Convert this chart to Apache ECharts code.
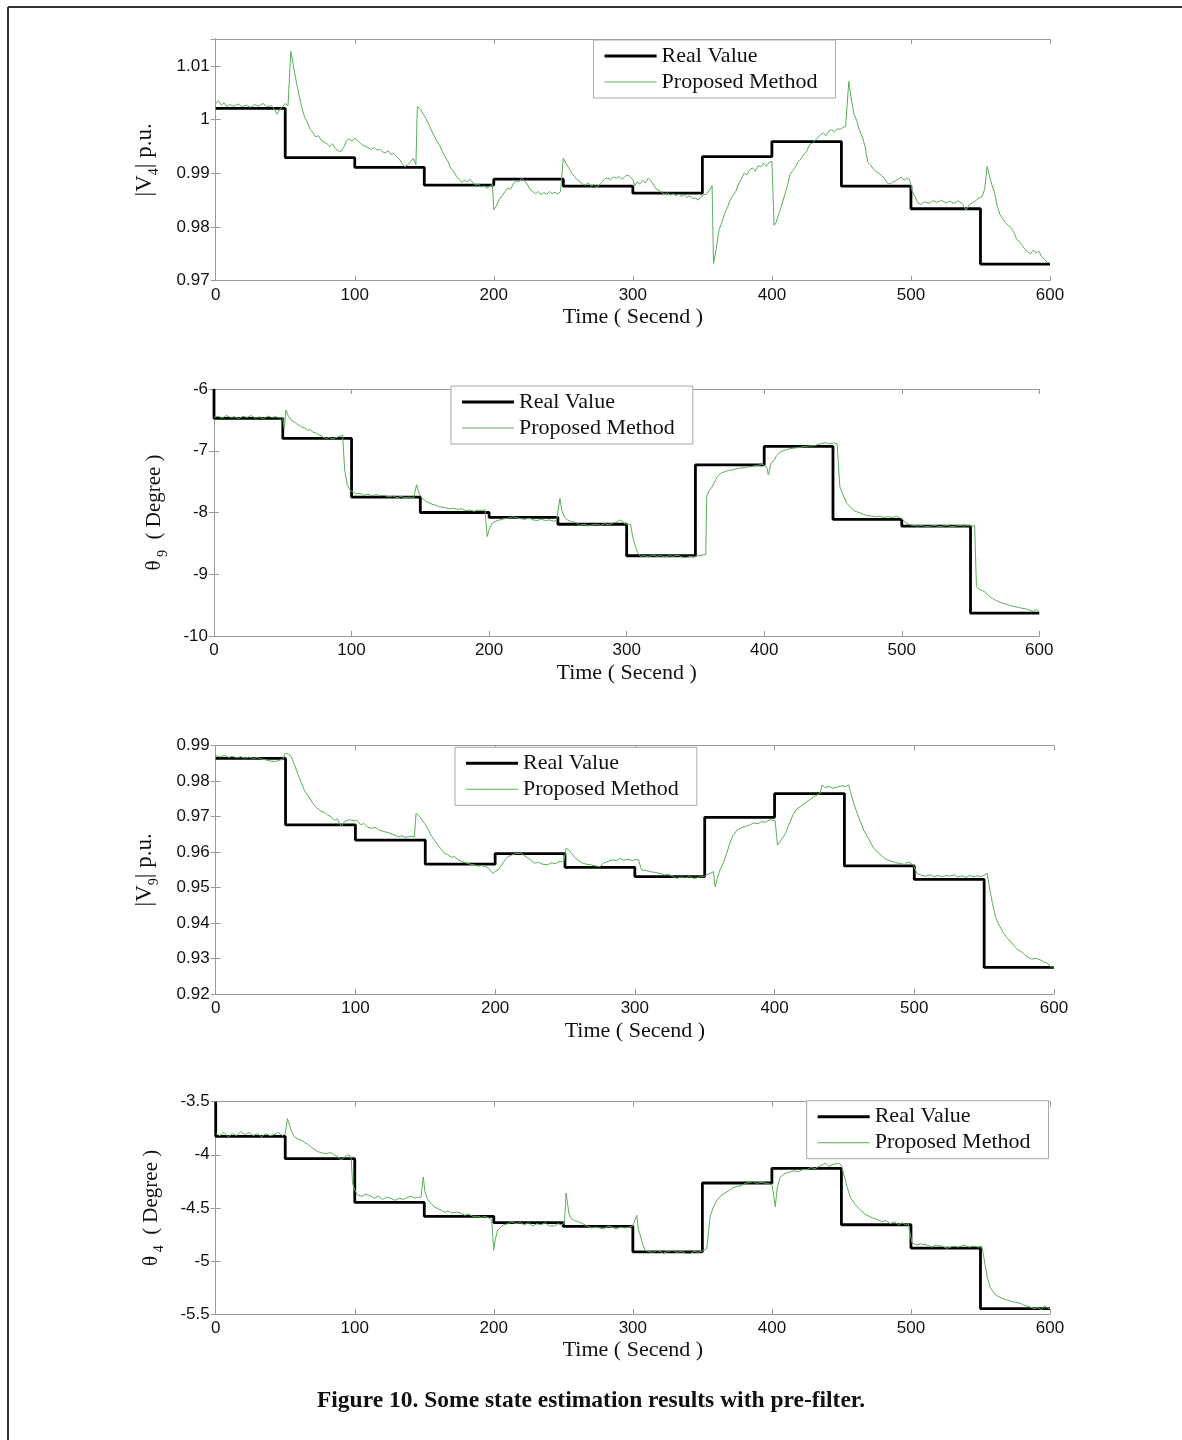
<!DOCTYPE html>
<html><head><meta charset="utf-8">
<script src="https://cdn.jsdelivr.net/npm/echarts@6/dist/echarts.min.js"></script>
<style>html,body{margin:0;padding:0;background:#fff}#c{width:1182px;height:1440px}</style>
</head><body><div id="c"></div>
<script>
// ---------- DATA ----------
const stepTimes = [0, 50, 100, 150, 200, 250, 300, 350, 400, 450, 500, 550, 600];
const xTicks = [0, 100, 200, 300, 400, 500, 600];
const seriesNames = ['Real Value', 'Proposed Method'];
const xName = 'Time ( Secend )';
const caption = 'Figure 10. Some state estimation results with pre-filter.';

// Real values (piecewise constant, one level per 50 s interval)
const realV4  = [1.0021, 0.9929, 0.9911, 0.9878, 0.9889, 0.9876, 0.9863, 0.9931, 0.9959, 0.9876, 0.9834, 0.9731];
const realTh9 = [-6.475, -6.80, -7.75, -8.00, -8.08, -8.19, -8.70, -7.23, -6.93, -8.11, -8.22, -9.63];
const realV9  = [0.9864, 0.9677, 0.9634, 0.9566, 0.9596, 0.9557, 0.9531, 0.9698, 0.9765, 0.9561, 0.9523, 0.9275];
const realTh4 = [-3.826, -4.037, -4.448, -4.58, -4.64, -4.675, -4.914, -4.266, -4.128, -4.659, -4.879, -5.45];
// value at t=0 before the first level (vertical start segment), null = none
const startV4 = null, startTh9 = -6, startV9 = null, startTh4 = -3.5;

// Proposed method estimates [time, value]
const propV4 = [[0,1.0030],[2,1.0035],[4,1.0027],[6,1.0031],[8,1.0024],[10,1.0028],[13,1.0025],[16,1.0029],[19,1.0024],[22,1.0027],[25,1.0023],[28,1.0028],[31,1.0025],[34,1.0030],[37,1.0024],[40,1.0026],[42,1.0020],[44,1.0010],[46,1.0018],[48,1.0024],[50,1.0030],[52,1.0026],[53,1.0028],[54,1.0127],[56,1.0098],[58,1.0070],[60,1.0045],[62,1.0022],[64,1.0004],[66,0.9995],[68,0.9982],[70,0.9975],[72,0.9968],[74,0.9970],[76,0.9961],[78,0.9958],[80,0.9955],[82,0.9950],[84,0.9955],[86,0.9946],[88,0.9942],[90,0.9940],[92,0.9948],[94,0.9960],[96,0.9964],[98,0.9960],[100,0.9965],[102,0.9961],[104,0.9956],[106,0.9952],[108,0.9950],[110,0.9947],[112,0.9944],[114,0.9948],[116,0.9943],[118,0.9945],[120,0.9940],[122,0.9938],[124,0.9942],[126,0.9935],[128,0.9937],[130,0.9931],[132,0.9927],[134,0.9918],[136,0.9912],[138,0.9916],[140,0.9921],[142,0.9928],[143,0.9931],[144,0.9916],[145,1.0024],[147,1.0020],[149,1.0012],[151,1.0003],[153,0.9992],[155,0.9981],[157,0.9970],[159,0.9960],[161,0.9952],[163,0.9941],[165,0.9931],[167,0.9922],[169,0.9910],[171,0.9904],[173,0.9895],[175,0.9888],[177,0.9883],[179,0.9887],[181,0.9884],[183,0.9889],[185,0.9882],[187,0.9878],[189,0.9880],[191,0.9874],[193,0.9877],[195,0.9872],[197,0.9876],[199,0.9879],[200,0.9832],[202,0.9840],[204,0.9852],[206,0.9858],[208,0.9866],[210,0.9873],[212,0.9870],[214,0.9880],[216,0.9886],[218,0.9884],[220,0.9891],[222,0.9886],[224,0.9880],[226,0.9870],[228,0.9866],[230,0.9862],[232,0.9866],[234,0.9860],[236,0.9864],[238,0.9861],[240,0.9866],[242,0.9862],[244,0.9865],[246,0.9861],[248,0.9866],[250,0.9928],[252,0.9918],[254,0.9910],[256,0.9900],[258,0.9894],[260,0.9888],[262,0.9884],[264,0.9880],[266,0.9878],[268,0.9882],[270,0.9876],[272,0.9879],[274,0.9875],[276,0.9878],[278,0.9884],[280,0.9890],[282,0.9891],[284,0.9888],[286,0.9893],[288,0.9891],[290,0.9894],[292,0.9889],[294,0.9893],[296,0.9897],[298,0.9894],[300,0.9888],[301.5,0.9877],[303,0.9884],[305,0.9880],[307,0.9887],[309,0.9882],[311,0.9891],[313,0.9886],[315,0.9878],[317,0.9870],[319,0.9868],[321,0.9864],[323,0.9861],[325,0.9864],[327,0.9859],[329,0.9862],[331,0.9858],[333,0.9861],[335,0.9857],[337,0.9860],[339,0.9855],[341,0.9858],[343,0.9853],[345,0.9854],[347,0.9850],[349,0.9857],[351,0.9860],[353,0.9861],[355,0.9868],[357,0.9877],[358,0.9732],[360,0.9760],[362,0.9795],[364,0.9808],[366,0.9825],[368,0.9836],[370,0.9850],[372,0.9859],[374,0.9866],[376,0.9880],[378,0.9889],[380,0.9900],[382,0.9897],[384,0.9906],[386,0.9910],[388,0.9904],[390,0.9914],[392,0.9912],[394,0.9919],[396,0.9913],[398,0.9920],[400,0.9922],[401.6,0.9803],[403,0.9808],[405,0.9825],[407,0.9840],[409,0.9858],[411,0.9875],[413,0.9898],[415,0.9905],[417,0.9912],[419,0.9922],[421,0.9927],[423,0.9935],[425,0.9941],[427,0.9953],[429,0.9956],[431,0.9961],[433,0.9966],[435,0.9972],[437,0.9975],[439,0.9970],[441,0.9979],[443,0.9981],[445,0.9977],[447,0.9983],[449,0.9982],[451,0.9985],[453,0.9987],[455.3,1.0071],[457,1.0040],[459,1.0010],[461,0.9998],[463,0.9980],[465,0.9968],[467,0.9950],[469,0.9920],[471,0.9915],[473,0.9908],[475,0.9903],[477,0.9900],[479,0.9896],[481,0.9890],[483,0.9882],[485,0.9880],[487,0.9884],[489,0.9886],[491,0.9889],[493,0.9893],[495,0.9887],[497,0.9891],[499,0.9888],[501,0.9866],[503,0.9856],[505,0.9845],[507,0.9842],[510,0.9847],[513,0.9844],[516,0.9849],[519,0.9846],[522,0.9850],[525,0.9845],[528,0.9848],[531,0.9844],[534,0.9849],[537,0.9843],[539.7,0.9831],[542,0.9842],[545,0.9846],[547,0.9850],[549,0.9854],[551,0.9856],[553,0.9870],[554.8,0.9913],[556,0.9900],[558,0.9880],[560,0.9865],[562,0.9840],[564,0.9823],[566,0.9815],[568,0.9808],[570,0.9803],[572,0.9799],[574,0.9790],[576,0.9777],[578,0.9773],[580,0.9766],[582,0.9758],[584,0.9754],[586,0.9750],[588,0.9757],[590,0.9752],[592,0.9755],[594,0.9745],[596,0.9740],[598,0.9734],[600,0.9733]];

const propTh9 = [[0,-6.46],[3,-6.44],[6,-6.47],[9,-6.43],[12,-6.46],[15,-6.45],[18,-6.48],[21,-6.44],[24,-6.46],[27,-6.43],[30,-6.47],[33,-6.45],[36,-6.48],[39,-6.44],[42,-6.46],[45,-6.45],[48,-6.47],[50,-6.46],[51,-6.64],[52.3,-6.34],[54,-6.44],[56,-6.50],[58,-6.53],[60,-6.56],[62,-6.59],[64,-6.62],[66,-6.63],[68,-6.67],[70,-6.66],[72,-6.70],[74,-6.71],[76,-6.74],[78,-6.76],[80,-6.79],[82,-6.80],[84,-6.78],[86,-6.81],[88,-6.79],[90,-6.78],[92,-6.76],[93.5,-6.75],[95,-7.31],[97,-7.56],[99,-7.64],[101,-7.67],[103,-7.70],[106,-7.69],[109,-7.72],[112,-7.70],[115,-7.73],[118,-7.71],[121,-7.73],[124,-7.72],[127,-7.75],[130,-7.73],[133,-7.76],[136,-7.74],[139,-7.76],[142,-7.75],[145,-7.77],[147.3,-7.55],[149,-7.68],[151,-7.76],[153,-7.80],[155,-7.83],[157,-7.85],[159,-7.87],[161,-7.88],[163,-7.90],[165,-7.91],[168,-7.92],[171,-7.94],[174,-7.93],[177,-7.95],[180,-7.94],[183,-7.97],[186,-7.96],[189,-7.98],[192,-7.96],[195,-7.97],[197,-7.95],[198.6,-8.39],[200,-8.28],[202,-8.18],[204,-8.15],[206,-8.13],[208,-8.12],[211,-8.10],[214,-8.09],[217,-8.07],[220,-8.08],[223,-8.10],[226,-8.11],[229,-8.09],[232,-8.12],[235,-8.13],[238,-8.11],[241,-8.13],[244,-8.12],[247,-8.14],[249,-8.13],[251.5,-7.77],[253,-7.98],[255,-8.08],[257,-8.12],[260,-8.15],[263,-8.16],[266,-8.21],[269,-8.19],[272,-8.22],[275,-8.20],[278,-8.19],[281,-8.21],[284,-8.18],[287,-8.20],[290,-8.17],[293,-8.15],[295,-8.12],[298,-8.17],[300,-8.19],[302.8,-8.19],[304.5,-8.40],[306.4,-8.55],[308,-8.65],[310,-8.71],[313,-8.70],[316,-8.72],[319,-8.69],[322,-8.71],[325,-8.70],[328,-8.72],[331,-8.70],[334,-8.71],[337,-8.69],[340,-8.72],[343,-8.73],[346,-8.71],[349,-8.72],[352,-8.70],[355,-8.69],[357.5,-8.68],[358.2,-7.74],[360,-7.65],[362,-7.59],[364,-7.50],[366,-7.42],[368,-7.37],[371,-7.34],[374,-7.32],[377,-7.31],[380,-7.29],[383,-7.28],[386,-7.27],[389,-7.26],[392,-7.25],[395,-7.24],[398,-7.22],[400,-7.23],[402,-7.28],[403,-7.39],[405,-7.20],[407,-7.16],[409,-7.08],[411.8,-7.02],[415,-6.99],[418,-6.97],[421,-6.96],[424,-6.95],[427,-6.94],[430,-6.93],[433,-6.92],[436,-6.92],[439,-6.90],[442,-6.88],[445,-6.87],[448,-6.89],[451,-6.87],[453,-6.89],[455,-7.58],[457,-7.70],[460,-7.85],[463,-7.92],[466,-7.98],[469,-8.00],[472,-8.03],[475,-8.05],[478,-8.06],[481,-8.07],[484,-8.06],[487,-8.08],[490,-8.07],[493,-8.08],[496,-8.06],[499,-8.09],[501,-8.12],[503,-8.17],[506,-8.20],[509,-8.21],[512,-8.22],[515,-8.21],[518,-8.23],[521,-8.22],[524,-8.21],[527,-8.23],[530,-8.22],[533,-8.21],[536,-8.23],[539,-8.22],[542,-8.21],[545,-8.22],[548,-8.21],[551,-8.22],[553,-8.21],[554.3,-9.20],[556,-9.24],[558,-9.26],[560,-9.28],[562,-9.32],[564,-9.36],[566,-9.39],[568,-9.42],[570,-9.44],[572,-9.46],[575,-9.48],[578,-9.50],[581,-9.52],[584,-9.53],[587,-9.55],[590,-9.56],[593,-9.58],[596,-9.60],[598,-9.57],[600,-9.61]];

const propV9 = [[0,0.9872],[3,0.9868],[6,0.9873],[9,0.9867],[12,0.9870],[15,0.9866],[18,0.9869],[21,0.9865],[24,0.9868],[27,0.9864],[30,0.9867],[33,0.9862],[36,0.9860],[39,0.9857],[42,0.9855],[45,0.9858],[48,0.9862],[49.8,0.9879],[52,0.9876],[54,0.9870],[56,0.9850],[58.7,0.9822],[61,0.9798],[63.4,0.9775],[66,0.9760],[69.4,0.9738],[72,0.9726],[75.4,0.9715],[78,0.9712],[80,0.9705],[82.5,0.9700],[85,0.9690],[87,0.9694],[89.7,0.9672],[92,0.9685],[94,0.9690],[96.9,0.9691],[99,0.9688],[101,0.9690],[104,0.9677],[106,0.9681],[108,0.9672],[111.2,0.9667],[114,0.9670],[117,0.9662],[120.7,0.9658],[124,0.9654],[127,0.9650],[130.3,0.9643],[133,0.9646],[136,0.9641],[139,0.9645],[142.2,0.9643],[143.4,0.9709],[146,0.9700],[149.4,0.9681],[152,0.9665],[154,0.9648],[156.5,0.9634],[159,0.9620],[161,0.9610],[163.7,0.9597],[166,0.9593],[169,0.9585],[171,0.9588],[173.3,0.9578],[176,0.9574],[179,0.9570],[182,0.9566],[185.2,0.9564],[188,0.9560],[190,0.9563],[192.4,0.9560],[195,0.9556],[198.3,0.9540],[200,0.9545],[202,0.9550],[205,0.9565],[207,0.9578],[209,0.9587],[212,0.9592],[215,0.9596],[218.6,0.9597],[221,0.9590],[224,0.9582],[226,0.9576],[228.2,0.9569],[231,0.9571],[234,0.9566],[237.7,0.9564],[240,0.9570],[243,0.9567],[245,0.9572],[247.3,0.9574],[249,0.9570],[250.8,0.9611],[253,0.9605],[255,0.9595],[257,0.9585],[259.2,0.9578],[262,0.9570],[265,0.9566],[268.8,0.9564],[272,0.9561],[275,0.9559],[278,0.9570],[281,0.9574],[284,0.9578],[287,0.9576],[289.4,0.9582],[292,0.9577],[295,0.9580],[298,0.9576],[300,0.9579],[302.5,0.9578],[304.9,0.9550],[308,0.9548],[311,0.9545],[314,0.9543],[318,0.9540],[321,0.9536],[324,0.9538],[327,0.9532],[330,0.9526],[333,0.9530],[336,0.9527],[339,0.9531],[342,0.9526],[344.3,0.9527],[347,0.9531],[349,0.9530],[351.5,0.9536],[354,0.9540],[356.3,0.9545],[357.5,0.9502],[359,0.9525],[361,0.9550],[363.5,0.9571],[366,0.9600],[368,0.9625],[370,0.9645],[373,0.9662],[376,0.9668],[379,0.9672],[382.6,0.9677],[385,0.9682],[388,0.9680],[390.9,0.9686],[393,0.9684],[396,0.9690],[398,0.9691],[400.4,0.9688],[402.1,0.9620],[404,0.9630],[406.4,0.9643],[408,0.9655],[410,0.9675],[413.6,0.9709],[416,0.9722],[419,0.9730],[423.1,0.9742],[426,0.9750],[429,0.9758],[432.7,0.9766],[433.9,0.9789],[436,0.9782],[439,0.9785],[442.3,0.9780],[445,0.9784],[448,0.9787],[451,0.9785],[453,0.9789],[456.6,0.9738],[460,0.9700],[463.8,0.9662],[467,0.9640],[470.9,0.9611],[474,0.9600],[477,0.9588],[480.5,0.9578],[484,0.9574],[487,0.9570],[490,0.9568],[493,0.9565],[495,0.9572],[497.2,0.9570],[499,0.9565],[502,0.9540],[505,0.9535],[508,0.9532],[511,0.9536],[513.9,0.9531],[517,0.9534],[520,0.9530],[523,0.9535],[525,0.9532],[528.3,0.9536],[531,0.9530],[534,0.9533],[537,0.9529],[540,0.9534],[542.6,0.9530],[545,0.9533],[548,0.9531],[550,0.9535],[552.2,0.9540],[554.1,0.9493],[556,0.9455],[558.1,0.9418],[560,0.9400],[562,0.9385],[564,0.9371],[566,0.9360],[568,0.9352],[571.2,0.9337],[574,0.9325],[577,0.9318],[580.8,0.9305],[584,0.9298],[587,0.9301],[590.3,0.9296],[593,0.9290],[595,0.9288],[597.5,0.9277],[600,0.9276]];

const propTh4 = [[0,-3.80],[3,-3.82],[6,-3.79],[9,-3.83],[12,-3.80],[15,-3.82],[18,-3.78],[21,-3.81],[24,-3.79],[27,-3.82],[30,-3.80],[33,-3.83],[36,-3.80],[39,-3.82],[42,-3.81],[45,-3.79],[48,-3.82],[50,-3.80],[51.6,-3.66],[54,-3.76],[56.4,-3.83],[59,-3.85],[61,-3.86],[63.6,-3.88],[66,-3.90],[68,-3.92],[70,-3.94],[73.2,-3.97],[76,-3.98],[79,-3.99],[82.8,-3.98],[85,-4.00],[88,-4.02],[90,-4.05],[92,-4.03],[94,-4.01],[96,-4.00],[97.5,-4.04],[98.4,-4.27],[100,-4.33],[102,-4.38],[105,-4.39],[108,-4.37],[111.6,-4.39],[114,-4.41],[117,-4.39],[120,-4.42],[123,-4.40],[126,-4.41],[129,-4.43],[132,-4.41],[135,-4.42],[138,-4.40],[140.4,-4.39],[143,-4.41],[145,-4.40],[147.6,-4.40],[149.3,-4.21],[150.5,-4.35],[152.4,-4.42],[155,-4.46],[157.2,-4.49],[160,-4.51],[162,-4.52],[164.4,-4.54],[167,-4.53],[170,-4.55],[173,-4.54],[176.4,-4.55],[179,-4.57],[182,-4.56],[185,-4.58],[188.4,-4.58],[191,-4.59],[194,-4.58],[196.8,-4.60],[198.5,-4.61],[199.9,-4.90],[201,-4.80],[202.8,-4.71],[205,-4.68],[207,-4.66],[210,-4.65],[213,-4.63],[216,-4.65],[219,-4.64],[222,-4.66],[225,-4.64],[228,-4.67],[231,-4.65],[234,-4.66],[237,-4.64],[240,-4.67],[243.6,-4.67],[246,-4.65],[249,-4.66],[250.8,-4.64],[252,-4.36],[254,-4.55],[255.6,-4.60],[258,-4.62],[261,-4.63],[264,-4.65],[267,-4.67],[270,-4.69],[273,-4.68],[276.4,-4.69],[279,-4.70],[282,-4.67],[285,-4.68],[288,-4.70],[291,-4.68],[294,-4.69],[298,-4.68],[300,-4.67],[302.8,-4.57],[304,-4.70],[305.2,-4.75],[307,-4.84],[308.8,-4.90],[311,-4.91],[314,-4.92],[317,-4.90],[319.6,-4.91],[322,-4.93],[325,-4.91],[329.2,-4.90],[332,-4.92],[335,-4.91],[338,-4.93],[341.2,-4.93],[344,-4.91],[347,-4.92],[350.8,-4.90],[353.2,-4.88],[355.6,-4.58],[358,-4.49],[360.4,-4.43],[363,-4.39],[365,-4.37],[367.6,-4.35],[370,-4.33],[372,-4.31],[374.8,-4.30],[378,-4.29],[381,-4.27],[384,-4.26],[386.8,-4.25],[389,-4.27],[392,-4.26],[396.4,-4.27],[400,-4.28],[401.5,-4.40],[402.4,-4.49],[404,-4.30],[406,-4.21],[409,-4.18],[413.2,-4.16],[416,-4.15],[419,-4.16],[422,-4.14],[425.2,-4.14],[428,-4.12],[431,-4.13],[434,-4.11],[438.4,-4.08],[441,-4.11],[444,-4.09],[448,-4.08],[450,-4.10],[451.6,-4.18],[454,-4.30],[456.4,-4.40],[460,-4.47],[463.6,-4.52],[467,-4.56],[470,-4.58],[473.2,-4.60],[476,-4.61],[479,-4.63],[482,-4.62],[485.2,-4.65],[488,-4.63],[491,-4.66],[494,-4.64],[496,-4.66],[498,-4.65],[500.8,-4.83],[504,-4.85],[507,-4.84],[511.6,-4.85],[515,-4.87],[518,-4.85],[522,-4.86],[526,-4.88],[530.8,-4.86],[534,-4.87],[538,-4.85],[542,-4.87],[545,-4.86],[548.8,-4.87],[551,-4.86],[552.4,-4.85],[554.8,-5.15],[557,-5.25],[559.6,-5.30],[562,-5.33],[565,-5.35],[569.2,-5.37],[572,-5.38],[575,-5.39],[578.8,-5.40],[582,-5.42],[585,-5.43],[588.4,-5.45],[591,-5.44],[594,-5.46],[596,-5.42],[598,-5.44],[600,-5.45]];

// Y axis ranges and ticks
const yV4  = {min: 0.97, max: 1.015, interval: 0.01};
const yTh9 = {min: -10, max: -6, interval: 1};
const yV9  = {min: 0.92, max: 0.99, interval: 0.01};
const yTh4 = {min: -5.5, max: -3.5, interval: 0.5};

// ---------- LAYOUT / STYLE ----------
const SERIF = "'Times New Roman', 'Liberation Serif', serif";
const SANS = "Arial, 'Liberation Sans', Helvetica, sans-serif";
const AXIS_GRAY = '#9a9a9a';
const GREEN = '#5aae5a';

const panels = [
  {real: realV4, start: startV4, prop: propV4, y: yV4, yName: '{n||V}{s|4}{n|| p.u.}', yGap: 57, yFont: 23,
   grid: {left: 215.7, top: 39, width: 834.3, height: 241.7}, legend: {left: 593.6, top: 40}, xGap: 26},
  {real: realTh9, start: startTh9, prop: propTh9, y: yTh9, yName: '{n|θ}{s| 9}{n|  ( Degree )}', yGap: 47, yFont: 21,
   grid: {left: 214, top: 389, width: 825.3, height: 247}, legend: {left: 451, top: 386}, xGap: 26},
  {real: realV9, start: startV9, prop: propV9, y: yV9, yName: '{n||V}{s|9}{n|| p.u.}', yGap: 57, yFont: 23,
   grid: {left: 215.7, top: 745.7, width: 838.3, height: 248.3}, legend: {left: 455, top: 747.3}, xGap: 26},
  {real: realTh4, start: startTh4, prop: propTh4, y: yTh4, yName: '{n|θ}{s| 4}{n|  ( Degree )}', yGap: 52, yFont: 21,
   grid: {left: 215.7, top: 1101.7, width: 834.3, height: 212.3}, legend: {left: 806.7, top: 1100.7}, xGap: 25}
];

function realSteps(levels, start) {
  const pts = [];
  if (start !== null) pts.push([stepTimes[0], start]);
  levels.forEach((v, i) => pts.push([stepTimes[i], v]));
  pts.push([stepTimes[stepTimes.length - 1], levels[levels.length - 1]]);
  return pts;
}

const grid = [], xAxis = [], yAxis = [], series = [], legend = [];
const tickStyle = {show: true, inside: true, length: 5, lineStyle: {color: AXIS_GRAY, width: 1}};
const lineStyleAx = {show: true, lineStyle: {color: AXIS_GRAY, width: 1}};

panels.forEach((p, i) => {
  grid.push(Object.assign({containLabel: false}, p.grid));
  xAxis.push({
    type: 'value', gridIndex: i, position: 'bottom', min: xTicks[0], max: xTicks[xTicks.length - 1],
    interval: xTicks[1] - xTicks[0],
    axisLine: lineStyleAx, axisTick: tickStyle, splitLine: {show: false},
    axisLabel: {show: true, margin: 6, color: '#111', fontFamily: SANS, fontSize: 17},
    name: xName, nameLocation: 'middle', nameGap: p.xGap,
    nameTextStyle: {fontFamily: SERIF, fontSize: 22, color: '#111'}
  });
  xAxis.push({
    type: 'value', gridIndex: i, position: 'top', min: xTicks[0], max: xTicks[xTicks.length - 1],
    interval: xTicks[1] - xTicks[0],
    axisLine: lineStyleAx, axisTick: tickStyle, splitLine: {show: false}, axisLabel: {show: false}
  });
  const nTicks = Math.round((p.y.max - p.y.min) / p.y.interval);
  yAxis.push({
    type: 'value', gridIndex: i, position: 'left', min: p.y.min, max: p.y.max, interval: p.y.interval,
    axisLine: lineStyleAx, axisTick: tickStyle, splitLine: {show: false},
    axisLabel: {show: true, margin: 6, color: '#111', fontFamily: SANS, fontSize: 17,
      showMaxLabel: Math.abs(p.y.min + nTicks * p.y.interval - p.y.max) < 1e-9},
    name: p.yName, nameLocation: 'middle', nameGap: p.yGap,
    nameTextStyle: {
      color: '#111', fontFamily: SERIF, fontSize: p.yFont,
      rich: {
        n: {fontFamily: SERIF, fontSize: p.yFont, color: '#111', verticalAlign: 'top', lineHeight: p.yFont + 2},
        s: {fontFamily: SERIF, fontSize: 14, color: '#111', verticalAlign: 'top', lineHeight: 14, padding: [p.yFont - 9, 0, 0, 0]}
      }
    }
  });
  yAxis.push({
    type: 'value', gridIndex: i, position: 'right', min: p.y.min, max: p.y.max, interval: p.y.interval,
    axisLine: lineStyleAx, axisTick: tickStyle, splitLine: {show: false}, axisLabel: {show: false}
  });
  series.push({
    name: seriesNames[0], type: 'line', xAxisIndex: 2 * i, yAxisIndex: 2 * i,
    data: realSteps(p.real, p.start), step: 'end', symbol: 'none', showSymbol: false,
    color: '#000', itemStyle: {color: '#000'}, lineStyle: {color: '#000', width: 2.8}, z: 2, silent: true
  });
  series.push({
    name: seriesNames[1], type: 'line', xAxisIndex: 2 * i, yAxisIndex: 2 * i,
    data: p.prop, symbol: 'none', showSymbol: false,
    color: GREEN, itemStyle: {color: GREEN}, lineStyle: {color: GREEN, width: 1}, z: 3, silent: true
  });
  legend.push({
    data: [
      {name: seriesNames[0], icon: 'path://M0,0H52V3H0Z'},
      {name: seriesNames[1], icon: 'path://M0,0H52V1H0Z'}
    ],
    orient: 'vertical', left: p.legend.left, top: p.legend.top,
    padding: [5, 18, 5, 11], itemGap: 4, itemWidth: 52, itemHeight: 14,
    itemStyle: {borderWidth: 0},
    backgroundColor: '#fff', borderColor: '#a8a8a8', borderWidth: 1, borderRadius: 0,
    textStyle: {fontFamily: SERIF, fontSize: 22, color: '#111', lineHeight: 21},
    selectedMode: false
  });
});

const chart = echarts.init(document.getElementById('c'), null, {renderer: 'canvas'});
chart.setOption({
  backgroundColor: '#fff',
  animation: false,
  title: {
    text: caption, left: 'center', top: 1384,
    textStyle: {fontFamily: SERIF, fontSize: 23.5, fontWeight: 'bold', color: '#111'}
  },
  graphic: [
    {type: 'line', shape: {x1: 8, y1: 7, x2: 1182, y2: 7}, style: {stroke: '#333', lineWidth: 2}},
    {type: 'line', shape: {x1: 8, y1: 7, x2: 8, y2: 1440}, style: {stroke: '#333', lineWidth: 2}}
  ],
  grid, xAxis, yAxis, series, legend
});
</script></body></html>
